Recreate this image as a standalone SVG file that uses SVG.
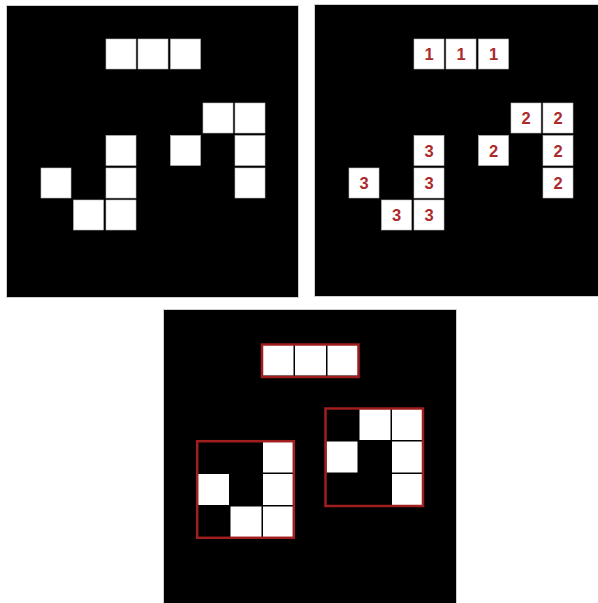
<svg xmlns="http://www.w3.org/2000/svg" width="598" height="603" viewBox="0 0 598 603">
<style>
.panel{fill:#000;stroke:#cfcfcf;stroke-width:1}
.c{fill:#fff;stroke:#bdbdbd;stroke-width:0.6}
.b{fill:#fff}
.n{font-family:"Liberation Sans",Arial,sans-serif;font-weight:bold;font-size:16.5px;fill:#ac2a2c;text-anchor:middle;dominant-baseline:central}
.box{fill:none;stroke:#a01e1e;stroke-width:2.5}
</style>
<rect width="598" height="603" fill="#fff"/>
<g id="panel-original">
<rect class="panel" x="6.5" y="5.5" width="292" height="292"/>
<rect class="c" x="106" y="39" width="30" height="30"/>
<rect class="c" x="138" y="39" width="30" height="30"/>
<rect class="c" x="170.5" y="39" width="30" height="30"/>
<rect class="c" x="203" y="103" width="30" height="30"/>
<rect class="c" x="235" y="103" width="30" height="30"/>
<rect class="c" x="106" y="135.5" width="30" height="30"/>
<rect class="c" x="170.5" y="135.5" width="30" height="30"/>
<rect class="c" x="235" y="135.5" width="30" height="30"/>
<rect class="c" x="41" y="168" width="30" height="30"/>
<rect class="c" x="106" y="168" width="30" height="30"/>
<rect class="c" x="235" y="168" width="30" height="30"/>
<rect class="c" x="73.5" y="200" width="30" height="30"/>
<rect class="c" x="106" y="200" width="30" height="30"/>
</g>
<g id="panel-labeled">
<rect class="panel" x="314.5" y="4.5" width="284" height="292"/>
<rect class="c" x="414" y="39" width="30" height="30"/>
<rect class="c" x="446" y="39" width="30" height="30"/>
<rect class="c" x="478.5" y="39" width="30" height="30"/>
<rect class="c" x="511" y="103" width="30" height="30"/>
<rect class="c" x="543" y="103" width="30" height="30"/>
<rect class="c" x="414" y="135.5" width="30" height="30"/>
<rect class="c" x="478.5" y="135.5" width="30" height="30"/>
<rect class="c" x="543" y="135.5" width="30" height="30"/>
<rect class="c" x="349" y="168" width="30" height="30"/>
<rect class="c" x="414" y="168" width="30" height="30"/>
<rect class="c" x="543" y="168" width="30" height="30"/>
<rect class="c" x="381.5" y="200" width="30" height="30"/>
<rect class="c" x="414" y="200" width="30" height="30"/>
<text class="n" x="429" y="54">1</text>
<text class="n" x="461" y="54">1</text>
<text class="n" x="493.5" y="54">1</text>
<text class="n" x="526" y="118">2</text>
<text class="n" x="558" y="118">2</text>
<text class="n" x="429" y="150.5">3</text>
<text class="n" x="493.5" y="150.5">2</text>
<text class="n" x="558" y="150.5">2</text>
<text class="n" x="364" y="183">3</text>
<text class="n" x="429" y="183">3</text>
<text class="n" x="558" y="183">2</text>
<text class="n" x="396.5" y="215">3</text>
<text class="n" x="429" y="215">3</text>
</g>
<g id="panel-grouped">
<rect class="panel" x="163.5" y="309.5" width="293" height="294"/>
<rect class="b" x="262.5" y="344.5" width="31" height="31"/>
<rect class="b" x="295" y="344.5" width="31" height="31"/>
<rect class="b" x="327.5" y="344.5" width="31" height="31"/>
<rect class="b" x="359.5" y="409" width="31" height="31"/>
<rect class="b" x="392" y="409" width="31" height="31"/>
<rect class="b" x="326.5" y="441.5" width="31" height="31"/>
<rect class="b" x="392" y="441.5" width="31" height="31"/>
<rect class="b" x="392" y="474" width="31" height="31"/>
<rect class="b" x="263" y="441.5" width="31" height="31"/>
<rect class="b" x="198" y="474" width="31" height="31"/>
<rect class="b" x="263" y="474" width="31" height="31"/>
<rect class="b" x="230.5" y="506.5" width="31" height="31"/>
<rect class="b" x="263" y="506.5" width="31" height="31"/>
<rect class="box" x="262" y="344.5" width="96.5" height="32.5"/>
<rect class="box" x="197.2" y="441.2" width="96.6" height="96.6"/>
<rect class="box" x="325.5" y="408.5" width="97.5" height="97.5"/>
</g>
</svg>
